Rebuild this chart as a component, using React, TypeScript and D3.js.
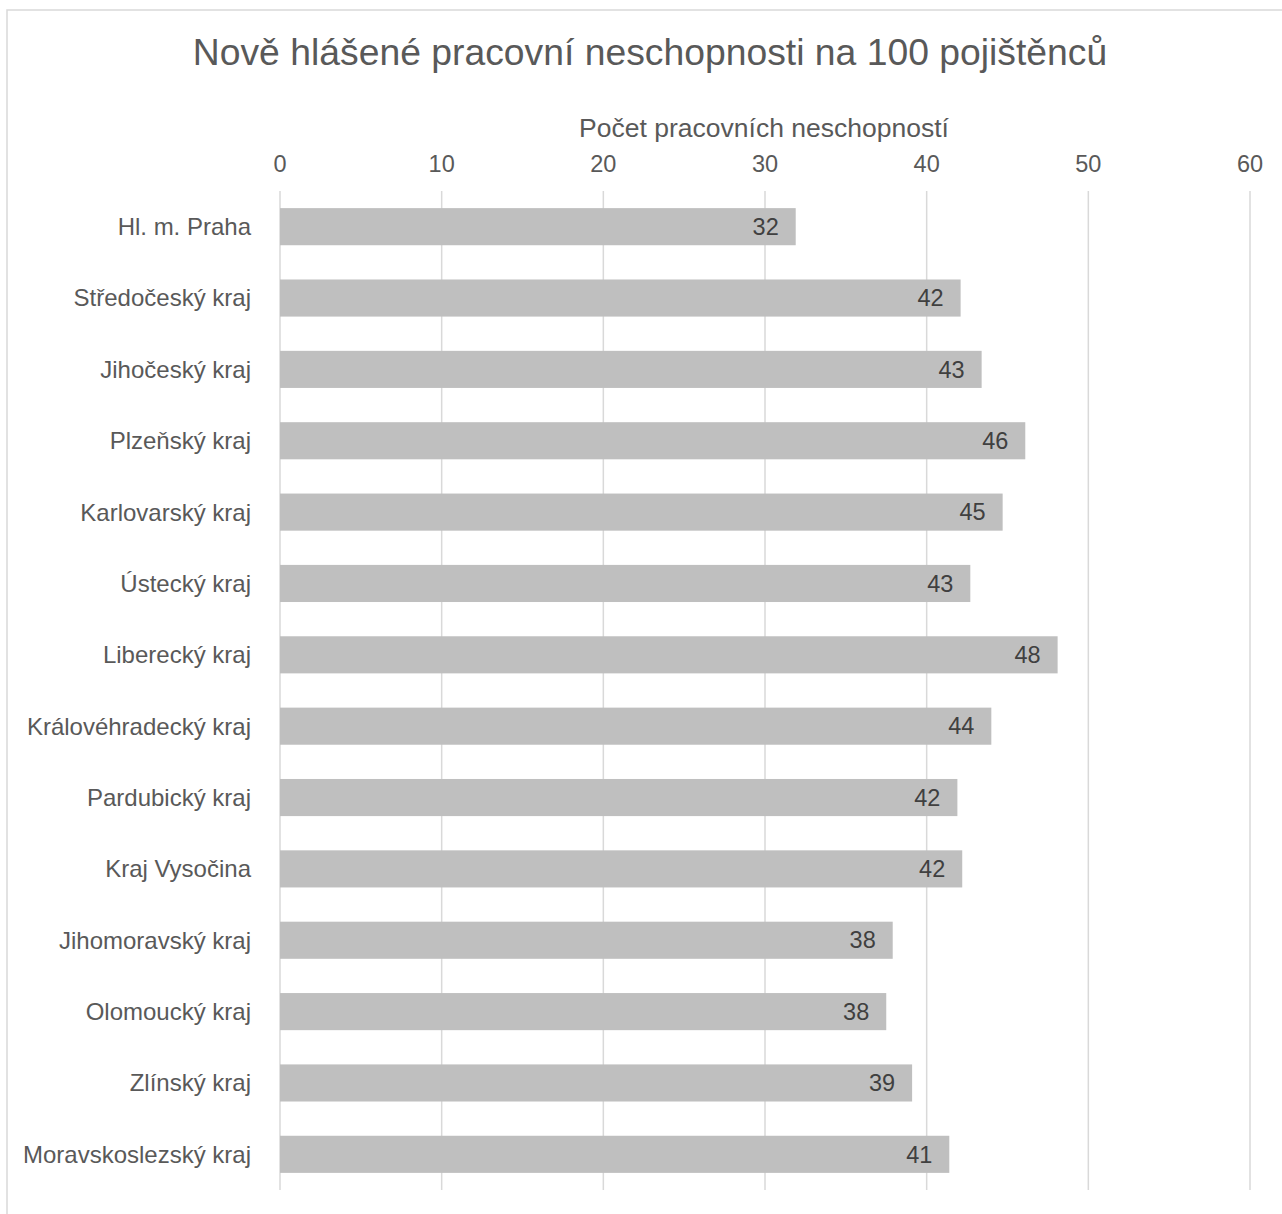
import React from "react";
import * as d3 from "d3";

const categories = [
  "Hl. m. Praha",
  "Středočeský kraj",
  "Jihočeský kraj",
  "Plzeňský kraj",
  "Karlovarský kraj",
  "Ústecký kraj",
  "Liberecký kraj",
  "Královéhradecký kraj",
  "Pardubický kraj",
  "Kraj Vysočina",
  "Jihomoravský kraj",
  "Olomoucký kraj",
  "Zlínský kraj",
  "Moravskoslezský kraj",
];
const values = [31.9, 42.1, 43.4, 46.1, 44.7, 42.7, 48.1, 44.0, 41.9, 42.2, 37.9, 37.5, 39.1, 41.4];
const ticks = [0, 10, 20, 30, 40, 50, 60];
const title = "Nově hlášené pracovní neschopnosti na 100 pojištěnců";
const axisTitle = "Počet pracovních neschopností";

export default function App() {
  const W = 1282;
  const H = 1214;
  const x = d3.scaleLinear().domain([0, 60]).range([280, 1250]);
  const y = d3
    .scaleBand<string>()
    .domain(categories)
    .range([191, 1190])
    .paddingInner(0.48)
    .paddingOuter(0.24);
  const font = "'Liberation Sans', Arimo, Arial, sans-serif";
  return (
    <svg
      width={W}
      height={H}
      style={{ position: "absolute", left: 0, top: 0, background: "#fff", fontFamily: font }}
    >
      <rect x={7} y={10} width={1290} height={1220} fill="#fff" stroke="#d9d9d9" strokeWidth={1.5} />
      <text x={650} y={65} textAnchor="middle" fontSize={37.3} fill="#595959">
        {title}
      </text>
      <text x={764} y={137} textAnchor="middle" fontSize={26.5} fill="#595959">
        {axisTitle}
      </text>
      {ticks.map((t) => (
        <g key={t}>
          <line x1={x(t)} x2={x(t)} y1={191} y2={1190} stroke="#d9d9d9" strokeWidth={1.5} />
          <text x={x(t)} y={172} textAnchor="middle" fontSize={23.5} fill="#595959">
            {t}
          </text>
        </g>
      ))}
      {categories.map((c, i) => {
        const yc = (y(c) as number) + y.bandwidth() / 2;
        return (
          <g key={c}>
            <rect x={x(0)} y={y(c)} width={x(values[i]) - x(0)} height={y.bandwidth()} fill="#bfbfbf" />
            <text x={251} y={yc} dy="0.35em" textAnchor="end" fontSize={24} fill="#595959">
              {c}
            </text>
            <text x={x(values[i]) - 17} y={yc} dy="0.35em" textAnchor="end" fontSize={23.5} fill="#404040">
              {d3.format(".0f")(values[i])}
            </text>
          </g>
        );
      })}
    </svg>
  );
}
